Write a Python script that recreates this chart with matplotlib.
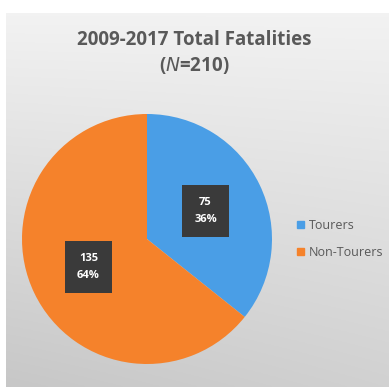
import matplotlib.pyplot as plt
import numpy as np
from matplotlib.patches import Patch

labels = ["Tourers", "Non-Tourers"]
counts = [75, 135]
pcts = ["36%", "64%"]
colors = ["#4a9ee6", "#f5822b"]
title = "2009-2017 Total Fatalities\n($\\mathit{N}$=210)"

plt.rcParams["font.family"] = ["Open Sans", "DejaVu Sans"]

W, H = 389, 387
fig = plt.figure(figsize=(W / 100, H / 100), dpi=100)
fig.patch.set_facecolor("white")

# gray gradient panel behind the chart
bg = fig.add_axes([6 / W, 0, 1 - 6 / W, 1 - 13 / H])
bg.axis("off")
yy, xx = np.mgrid[0:1:200j, 0:1:200j]
shade = 0.95 - 0.13 * yy - 0.04 * (1 - xx) * yy
bg.imshow(np.dstack([shade] * 3), aspect="auto", extent=[0, 1, 1, 0])
bg.set_xlim(0, 1)
bg.set_ylim(1, 0)

# pie
cx, cy, r = 147, 239, 125
ax = fig.add_axes([(cx - r) / W, (H - cy - r) / H, 2 * r / W, 2 * r / H])
ax.pie(counts, colors=colors, startangle=90, counterclock=False,
       wedgeprops=dict(linewidth=0))
ax.set_aspect("equal")
ax.set_xlim(-1, 1)
ax.set_ylim(-1, 1)

# data labels in dark boxes
cum = 0
total = sum(counts)
for c, p in zip(counts, pcts):
    mid = 90 - (cum + c / 2) / total * 360
    cum += c
    ang = np.deg2rad(mid)
    ax.text(0.52 * np.cos(ang), 0.52 * np.sin(ang), f"{c}\n{p}",
            ha="center", va="center", color="white", fontsize=8,
            fontweight="bold", linespacing=1.7,
            bbox=dict(boxstyle="square,pad=1.1", fc="#3a3a3a", ec="none"))

fig.text(0.5, 1 - 53 / H, title, ha="center", va="center", fontsize=13.5,
         fontweight="bold", color="#595959", linespacing=1.35)

handles = [Patch(color=col) for col in colors]
fig.legend(handles, labels, loc="center left", bbox_to_anchor=(286 / W, 1 - 239 / H),
           frameon=False, fontsize=9, labelcolor="#595959", handlelength=0.55,
           handleheight=0.55, handletextpad=0.4, labelspacing=1.1)

fig.savefig("out.png", dpi=100)
